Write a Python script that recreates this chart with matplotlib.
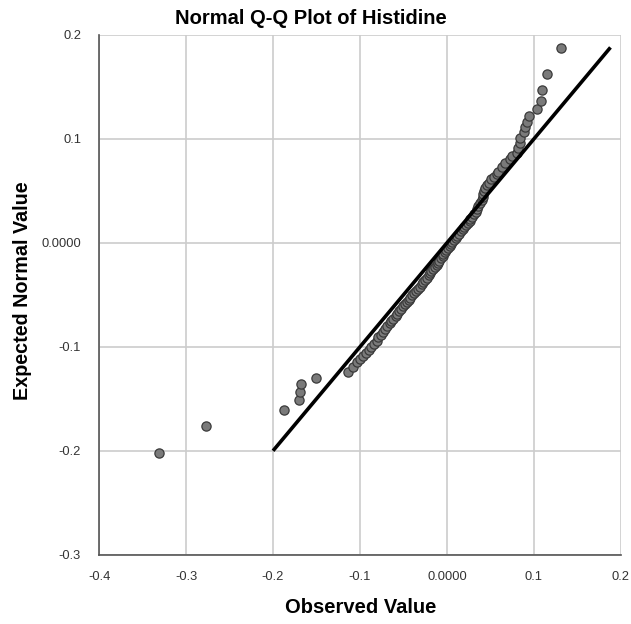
import matplotlib
matplotlib.use("Agg")
import matplotlib.pyplot as plt

plt.rcParams['font.family'] = ['Liberation Sans', 'DejaVu Sans']

observed = [
    -0.331, -0.277, -0.187, -0.170, -0.169, -0.168, -0.150, -0.114,
    -0.108, -0.104, -0.100, -0.096, -0.093, -0.090, -0.087, -0.084,
    -0.081, -0.079, -0.076, -0.074, -0.071, -0.069, -0.066, -0.064,
    -0.062, -0.059, -0.057, -0.055, -0.053, -0.050, -0.048, -0.046,
    -0.044, -0.042, -0.040, -0.038, -0.036, -0.033, -0.031, -0.029,
    -0.027, -0.025, -0.023, -0.021, -0.019, -0.018, -0.016, -0.014,
    -0.012, -0.010, -0.009, -0.007, -0.005, -0.004, -0.002, -0.001,
    0.001, 0.003, 0.005, 0.006, 0.008, 0.010, 0.012, 0.014,
    0.016, 0.018, 0.020, 0.022, 0.024, 0.026, 0.027, 0.029,
    0.031, 0.033, 0.035, 0.036, 0.038, 0.040, 0.041, 0.042,
    0.043, 0.044, 0.046, 0.048, 0.051, 0.054, 0.057,
    0.059, 0.063, 0.067, 0.072, 0.075, 0.081, 0.082, 0.084,
    0.084, 0.089, 0.090, 0.092, 0.094, 0.103, 0.108, 0.109,
    0.115, 0.131,
]
expected = [
    -0.202, -0.176, -0.161, -0.151, -0.143, -0.136, -0.130, -0.124,
    -0.119, -0.115, -0.112, -0.109, -0.106, -0.103, -0.100, -0.097,
    -0.094, -0.091, -0.089, -0.086, -0.083, -0.080, -0.077, -0.075,
    -0.073, -0.070, -0.068, -0.066, -0.064, -0.061, -0.059, -0.057,
    -0.055, -0.053, -0.050, -0.048, -0.046, -0.044, -0.042, -0.040,
    -0.038, -0.036, -0.034, -0.031, -0.029, -0.027, -0.025, -0.023,
    -0.021, -0.019, -0.017, -0.015, -0.013, -0.011, -0.009, -0.007,
    -0.005, -0.003, -0.001, 0.001, 0.003, 0.005, 0.007, 0.009,
    0.011, 0.013, 0.015, 0.017, 0.019, 0.021, 0.023, 0.025,
    0.028, 0.030, 0.033, 0.035, 0.038, 0.041, 0.044, 0.047,
    0.050, 0.053, 0.056, 0.058, 0.061, 0.063, 0.066,
    0.0686, 0.073, 0.077, 0.081, 0.084, 0.086, 0.091, 0.0965,
    0.101, 0.107, 0.1115, 0.116, 0.122, 0.1286, 0.1368, 0.1468,
    0.162, 0.1878,
]
ref_line = [-0.2, 0.188]

x_ticks = [-0.4, -0.3, -0.2, -0.1, 0.0, 0.1, 0.2]
x_labels = ['-0.4', '-0.3', '-0.2', '-0.1', '0.0000', '0.1', '0.2']
y_ticks = [-0.3, -0.2, -0.1, 0.0, 0.1, 0.2]
y_labels = ['-0.3', '-0.2', '-0.1', '0.0000', '0.1', '0.2']

fig = plt.figure(figsize=(6.31, 6.24), dpi=100)
ax = fig.add_axes([0.157, 0.111, 0.827, 0.833])

ax.scatter(observed, expected, s=44, facecolor='#7a7a7a', edgecolor='#3a3a3a',
           linewidth=0.9, zorder=3)
ax.plot(ref_line, ref_line, color='black', lw=2.6, zorder=4, solid_capstyle='butt')

ax.set_xlim(-0.4, 0.2)
ax.set_ylim(-0.3, 0.2)
ax.set_xticks(x_ticks)
ax.set_xticklabels(x_labels)
ax.set_yticks(y_ticks)
ax.set_yticklabels(y_labels)
ax.tick_params(length=0, labelsize=9.3, colors='#333333', pad=12)
ax.tick_params(axis='y', pad=13)
ax.grid(True, color='#cccccc', lw=1.2)
ax.set_axisbelow(True)

for s in ['top', 'right']:
    ax.spines[s].set_visible(False)
for s in ['left', 'bottom']:
    ax.spines[s].set_color('#555555')
    ax.spines[s].set_linewidth(1.2)

fig.text(0.571, 0.027, 'Observed Value', ha='center', va='center',
         fontsize=14.5, fontweight='bold')
fig.text(0.036, 0.534, 'Expected Normal Value', ha='center', va='center',
         rotation=90, fontsize=14.2, fontweight='bold')
fig.text(0.493, 0.970, 'Normal Q-Q Plot of Histidine', ha='center', va='center',
         fontsize=14.5, fontweight='bold')

fig.savefig('out.png', dpi=100)
